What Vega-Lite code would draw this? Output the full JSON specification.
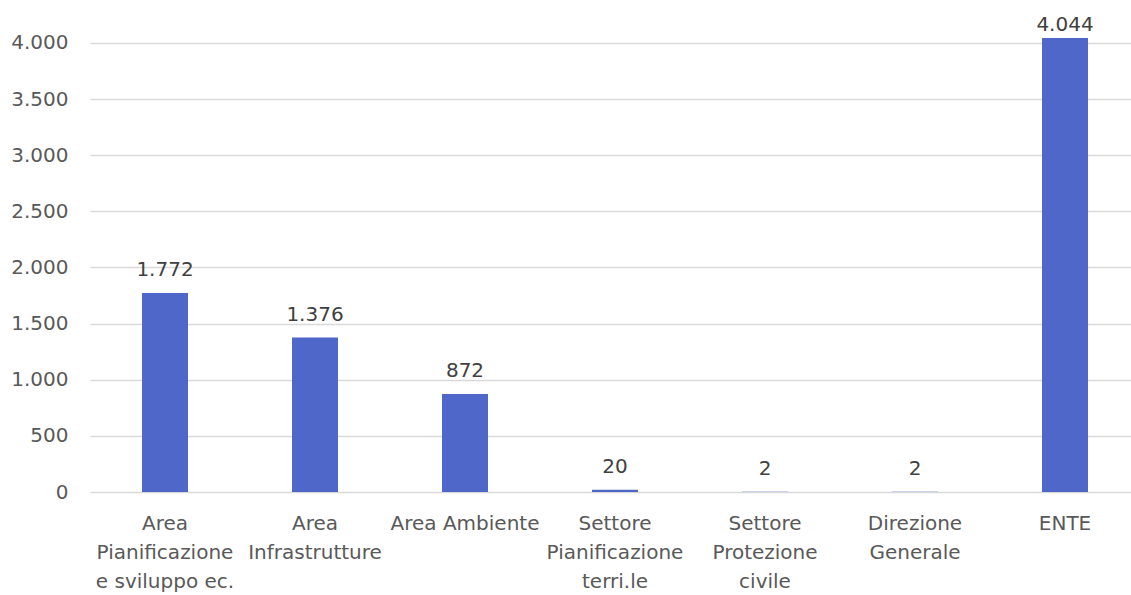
{
  "$schema": "https://vega.github.io/schema/vega-lite/v6.json",
  "autosize": {"type": "none"},
  "padding": {"left": 90, "top": 34, "right": 0, "bottom": 103},
  "width": 1050,
  "height": 458,
  "background": "white",
  "config": {
    "view": {"stroke": null},
    "locale": {"number": {"decimal": ",", "thousands": ".", "grouping": [3], "currency": ["€", ""]}},
    "font": "DejaVu Sans"
  },
  "data": {
    "values": [
      {"categoria": "Area|Pianificazione|e sviluppo ec.", "valore": 1772},
      {"categoria": "Area|Infrastrutture", "valore": 1376},
      {"categoria": "Area Ambiente", "valore": 872},
      {"categoria": "Settore|Pianificazione|terri.le", "valore": 20},
      {"categoria": "Settore|Protezione|civile", "valore": 2},
      {"categoria": "Direzione|Generale", "valore": 2},
      {"categoria": "ENTE", "valore": 4044}
    ]
  },
  "encoding": {
    "x": {
      "field": "categoria", "type": "nominal", "sort": null, "title": null,
      "scale": {"paddingInner": 0, "paddingOuter": 0},
      "axis": {
        "labelAngle": 0, "labelExpr": "split(datum.label, '|')", "labelFontSize": 20,
        "labelColor": "#595959", "labelLineHeight": 29, "labelPadding": 31,
        "labelBaseline": "middle", "ticks": false, "domain": false, "labelFont": "DejaVu Sans", "labelLimit": 300
      }
    },
    "y": {
      "field": "valore", "type": "quantitative", "title": null,
      "scale": {"domain": [0, 4080], "nice": false},
      "axis": {
        "values": [0, 500, 1000, 1500, 2000, 2500, 3000, 3500, 4000],
        "format": ",d", "labelFontSize": 20, "labelColor": "#595959",
        "labelPadding": 22, "ticks": false, "domain": false,
        "gridColor": "#d9d9d9", "gridWidth": 1.3, "labelFont": "DejaVu Sans"
      }
    }
  },
  "layer": [
    {"mark": {"type": "bar", "size": 46, "color": "#4E67C8"}},
    {
      "transform": [{"filter": "datum.valore < 4000"}],
      "mark": {"type": "text", "baseline": "alphabetic", "dy": -17, "fontSize": 20, "color": "#404040", "font": "DejaVu Sans"},
      "encoding": {"text": {"field": "valore", "type": "quantitative", "format": ",d"}}
    },
    {
      "transform": [{"filter": "datum.valore >= 4000"}],
      "mark": {"type": "text", "baseline": "alphabetic", "dy": -7, "fontSize": 20, "color": "#404040", "font": "DejaVu Sans"},
      "encoding": {"text": {"field": "valore", "type": "quantitative", "format": ",d"}}
    }
  ]
}
